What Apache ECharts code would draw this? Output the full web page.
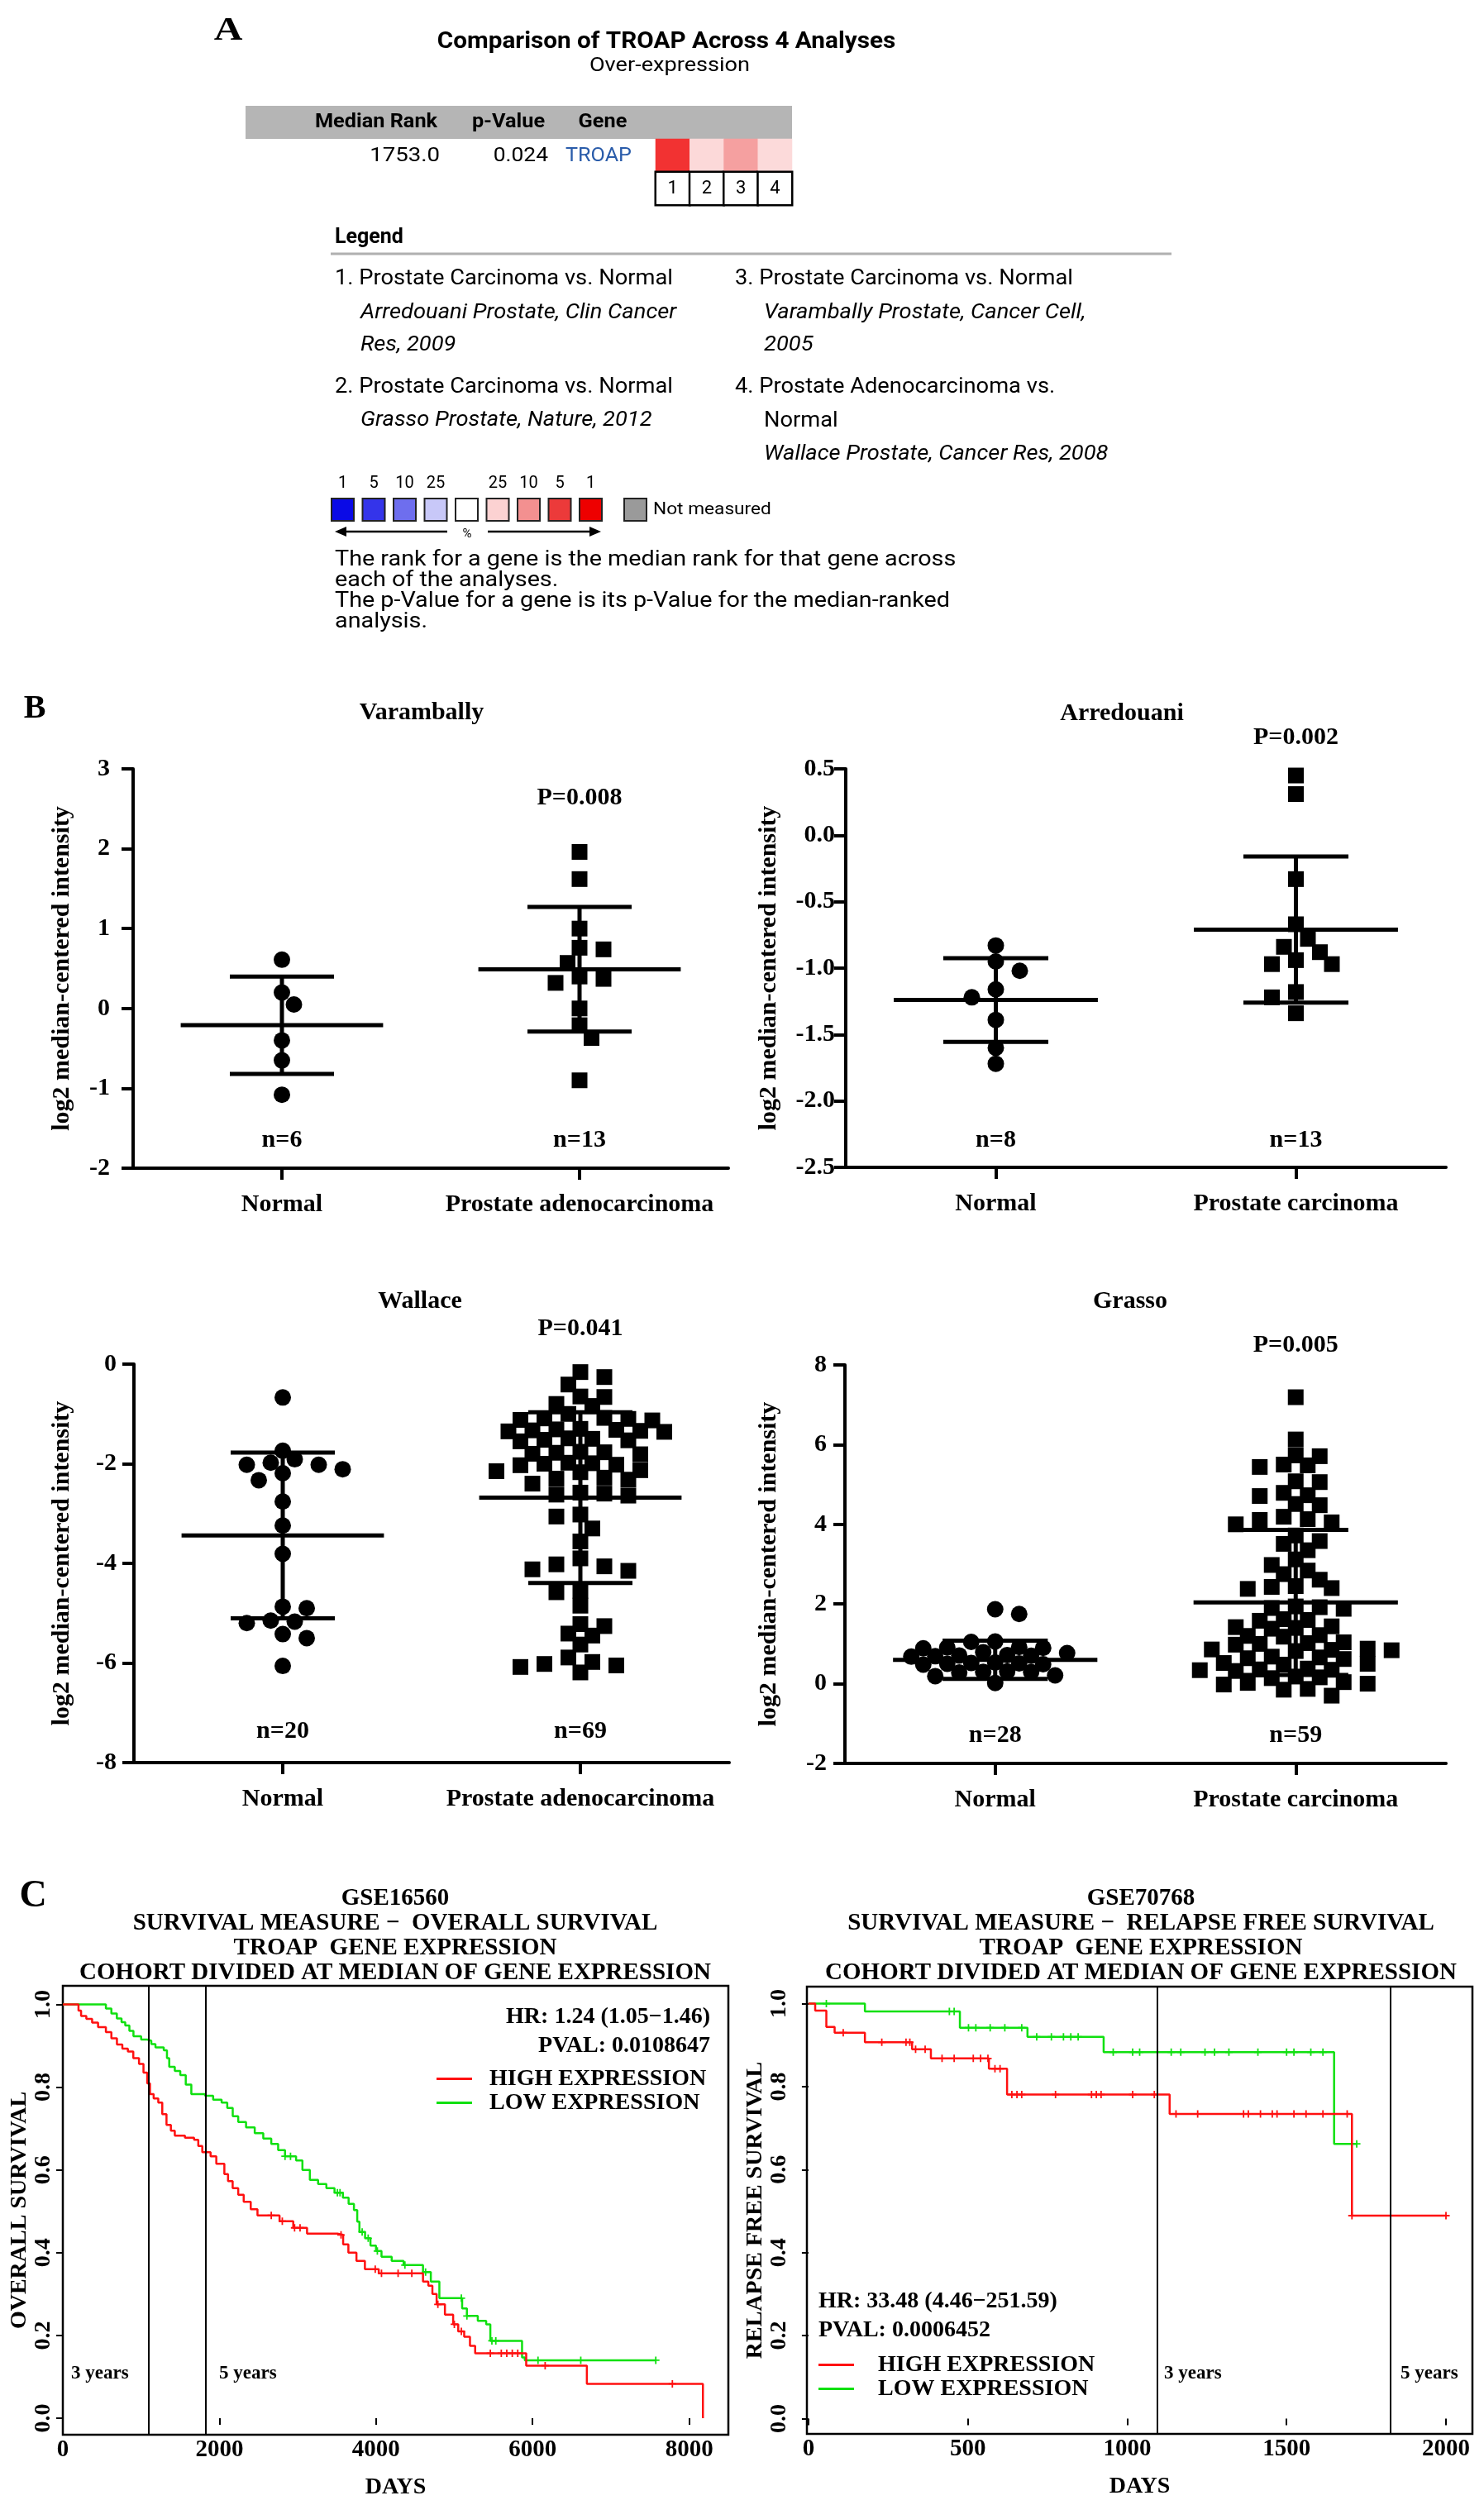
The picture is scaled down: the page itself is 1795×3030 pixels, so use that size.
<!DOCTYPE html>
<html>
<head>
<meta charset="utf-8">
<script src="https://cdn.jsdelivr.net/npm/echarts@6/dist/echarts.min.js"></script>
<style>
  html, body { margin: 0; padding: 0; background: #fff; }
  #main { width: 1795px; height: 3030px; }
</style>
</head>
<body>
<div id="main"></div>
<script>
// ---------- Panel A : Oncomine summary ----------
var analysisIds = ['1', '2', '3', '4'];
var analysisColors = ['#f23232', '#fcd9d9', '#f5a0a0', '#fcdada'];
var summaryHeader = ['Median Rank', 'p-Value', 'Gene'];
var summaryRow = ['1753.0', '0.024', 'TROAP'];
var scaleTicks = ['1', '5', '10', '25', '25', '10', '5', '1'];
var scaleColors = ['#0a0ae6', '#3434ea', '#6e6eee', '#c8c8f8', '#ffffff', '#fcd2d2', '#f39090', '#ec3a3a', '#ee0000'];

// ---------- Panel B : scatter dot plots (log2 median-centered intensity) ----------
var catsAdeno = ['Normal', 'Prostate adenocarcinoma'];
var catsCarc = ['Normal', 'Prostate carcinoma'];

var varNormal = [0.61, 0.20, 0.05, -0.40, -0.65, -1.08];
var varTumor = [1.96, 1.62, 1.00, 0.76, 0.74, 0.57, 0.40, 0.37, 0.32, 0.00, -0.21, -0.37, -0.90];
var varMean = [-0.21, 0.49];
var varSd = [0.61, 0.78];

var arrNormal = [-0.83, -0.95, -1.02, -1.16, -1.22, -1.39, -1.60, -1.72];
var arrTumor = [0.45, 0.31, -0.33, -0.67, -0.78, -0.84, -0.88, -0.94, -0.97, -0.97, -1.18, -1.22, -1.34];
var arrMean = [-1.24, -0.71];
var arrSd = [0.315, 0.55];

var walNormal = [-0.67, -1.74, -1.91, -1.98, -2.02, -2.02, -2.11, -2.19, -2.33, -2.76, -3.24, -3.81,
  -4.87, -4.90, -5.15, -5.17, -5.20, -5.42, -5.50, -6.06];
var walTumor = [-0.16, -0.26, -0.41, -0.65, -0.66, -0.80, -0.84, -1.00,
  -1.08, -1.10, -1.12, -1.09, -1.13,
  -1.30, -1.33, -1.35, -1.31, -1.34, -1.36, -1.32,
  -1.50, -1.52, -1.55, -1.49, -1.53,
  -1.76, -1.78, -1.80, -1.77, -1.81,
  -1.98, -2.00, -2.02, -1.99, -2.03,
  -2.13, -2.15, -2.17, -2.28, -2.30, -2.32, -2.40,
  -2.58, -2.60, -2.62, -2.64,
  -3.02, -3.06, -3.30, -3.56, -3.90, -4.02, -4.06, -4.12, -4.15, -4.55, -4.58, -4.85,
  -5.22, -5.26, -5.41, -5.45, -5.63, -5.89, -5.98, -6.02, -6.05, -6.08, -6.19];
var walMean = [-3.44, -2.68];
var walSd = [1.665, 1.715];

var graNormal = [1.87, 1.75, 1.05, 1.06, 0.92, 0.90, 0.91, 0.89, 0.79, 0.77, 0.70, 0.71, 0.69, 0.72,
  0.68, 0.52, 0.50, 0.49, 0.51, 0.53, 0.48, 0.30, 0.31, 0.29, 0.28, 0.21, 0.19, 0.02];
var graTumor = [7.19, 6.13, 5.71, 5.73, 5.48, 5.44, 5.50, 5.06, 5.08, 4.71, 4.79, 4.73, 4.48, 4.51,
  4.11, 4.13, 4.19, 4.05, 4.00, 3.72, 3.58, 3.51, 3.35, 3.12, 2.98, 2.84, 2.75, 2.61, 2.38, 2.43, 2.40, 2.45,
  1.92, 1.90, 1.94, 1.88, 1.62, 1.60, 1.58, 1.42, 1.40, 1.38, 1.44, 1.22, 1.20, 1.18,
  1.02, 1.00, 0.98, 1.04, 0.86, 0.84, 0.88, 0.82, 0.85, 0.66, 0.64, 0.68, 0.62,
  0.50, 0.48, 0.52, 0.36, 0.34, 0.38, 0.32, 0.35, 0.16, 0.14, 0.18, 0.02, 0.00, -0.02, 0.04,
  -0.15, -0.13, -0.30];
var graMean = [0.60, 2.04];
var graSd = [0.48, 1.82];

// ---------- Panel C : Kaplan-Meier curves ----------
var yearMarks = [1095, 1825];
var kmLeftHigh = [[0,1],[200,0.985],[233,0.972],[300,0.965],[374,0.956],[450,0.945],[550,0.933],[620,0.918],
  [691,0.903],[760,0.893],[831,0.886],[900,0.87],[973,0.856],[1030,0.835],[1078,0.809],[1113,0.783],[1160,0.773],
  [1219,0.763],[1270,0.735],[1324,0.709],[1380,0.695],[1430,0.683],[1560,0.678],[1676,0.673],[1730,0.658],
  [1781,0.643],[1887,0.633],[1960,0.615],[2063,0.59],[2110,0.573],[2169,0.556],[2240,0.54],[2310,0.523],
  [2400,0.505],[2486,0.49],[2768,0.476],[2943,0.46],[3119,0.446],[3507,0.443],[3580,0.42],[3647,0.4],
  [3750,0.38],[3858,0.36],[4035,0.35],[4600,0.33],[4668,0.32],[4720,0.3],[4774,0.275],[4880,0.25],
  [4985,0.227],[5050,0.21],[5126,0.197],[5200,0.175],[5266,0.157],[5918,0.127],[6693,0.083],[8175,0]];
var kmLeftLow = [[0,1],[550,0.99],[620,0.978],[690,0.966],[750,0.957],[797,0.949],[850,0.936],[902,0.923],
  [1000,0.915],[1078,0.912],[1130,0.904],[1183,0.896],[1289,0.889],[1330,0.87],[1359,0.849],[1430,0.839],
  [1500,0.829],[1570,0.806],[1641,0.783],[1817,0.779],[1920,0.77],[2028,0.763],[2100,0.75],[2170,0.73],
  [2240,0.716],[2340,0.703],[2451,0.689],[2560,0.676],[2662,0.663],[2750,0.648],[2838,0.633],[2979,0.623],
  [3060,0.6],[3155,0.576],[3260,0.566],[3366,0.556],[3470,0.545],[3577,0.533],[3650,0.518],[3718,0.503],
  [3760,0.475],[3788,0.45],[3860,0.435],[3929,0.417],[4000,0.404],[4070,0.39],[4200,0.38],[4352,0.37],
  [4600,0.353],[4700,0.33],[4809,0.29],[5100,0.265],[5161,0.247],[5300,0.235],[5407,0.227],[5460,0.187],
  [5865,0.147],[5900,0.14],[7573,0.14]];
var kmLeftHighCens = [[2662,0.49],[2803,0.476],[2960,0.46],[3030,0.46],[3553,0.443],[3990,0.36],[4070,0.35],
  [4282,0.35],[4457,0.35],[4790,0.275],[5000,0.227],[5090,0.21],[5460,0.157],[5600,0.157],[5670,0.157],
  [5740,0.157],[5810,0.157],[6160,0.127],[7785,0.083]];
var kmLeftLowCens = [[2838,0.633],[2908,0.633],[3507,0.545],[3540,0.545],[3823,0.45],[3900,0.435],[4017,0.404],
  [4369,0.37],[4633,0.353],[5090,0.29],[5161,0.247],[5480,0.187],[5530,0.187],[6069,0.14],[6615,0.14],[7573,0.14]];
var kmLeftStats = ['HR: 1.24 (1.05\u22121.46)', 'PVAL: 0.0108647'];

var kmRightHigh = [[0,1],[21,0.983],[56,0.944],[82,0.93],[177,0.907],[325,0.89],[384,0.868],[566,0.843],
  [623,0.781],[1133,0.734],[1705,0.489],[2000,0.489]];
var kmRightLow = [[0,1],[177,0.981],[475,0.942],[687,0.92],[926,0.883],[1649,0.662],[1720,0.662]];
var kmRightHighCens = [[109,0.93],[230,0.907],[306,0.907],[318,0.907],[336,0.89],[366,0.89],[419,0.868],
  [457,0.868],[517,0.868],[540,0.868],[563,0.868],[585,0.843],[601,0.843],[638,0.781],[654,0.781],[669,0.781],
  [775,0.781],[888,0.781],[903,0.781],[918,0.781],[1017,0.781],[1085,0.781],[1153,0.734],[1221,0.734],
  [1365,0.734],[1380,0.734],[1418,0.734],[1455,0.734],[1470,0.734],[1523,0.734],[1561,0.734],[1614,0.734],
  [1690,0.734],[1705,0.489],[2000,0.489]];
var kmRightLowCens = [[56,1],[442,0.981],[457,0.981],[502,0.942],[525,0.942],[570,0.942],[616,0.942],
  [669,0.942],[716,0.92],[762,0.92],[800,0.92],[823,0.92],[846,0.92],[956,0.883],[1017,0.883],[1039,0.883],
  [1138,0.883],[1168,0.883],[1244,0.883],[1274,0.883],[1319,0.883],[1410,0.883],[1500,0.883],[1523,0.883],
  [1576,0.883],[1614,0.883],[1720,0.662]];
var kmRightStats = ['HR: 33.48 (4.46\u2212251.59)', 'PVAL: 0.0006452'];

// ---------- layout ----------
var SERIF = '"Liberation Serif","Times New Roman",serif';
var SANS = 'Roboto,"Liberation Sans",Arial,sans-serif';
var RED = '#ff1010';
var GREEN = '#10e010';
var SLOT_PX = 29;     // dot plot column spacing in px
var MEAN_HW = 0.34;
var CAP_HW = 0.175;

var bPanels = [
  { title: 'Varambally', tx: 510, ty: 862, cats: catsAdeno, normal: varNormal, tumor: varTumor, mean: varMean, sd: varSd,
    min: -2, max: 3, interval: 1, dec: 0, p: 'P=0.008', py: 965, n: ['n=6', 'n=13'], ny: 1379,
    grid: { left: 161, top: 930, width: 720, height: 483 }, margin: 28, nameGap: 71, dist: 19 },
  { title: 'Arredouani', tx: 1357, ty: 863, cats: catsCarc, normal: arrNormal, tumor: arrTumor, mean: arrMean, sd: arrSd,
    min: -2.5, max: 0.5, interval: 0.5, dec: 1, p: 'P=0.002', py: 892, n: ['n=8', 'n=13'], ny: 1379,
    grid: { left: 1023, top: 930, width: 726, height: 482 }, margin: 13, nameGap: 78, dist: 19 },
  { title: 'Wallace', tx: 508, ty: 1574, cats: catsAdeno, normal: walNormal, tumor: walTumor, mean: walMean, sd: walSd,
    min: -8, max: 0, interval: 2, dec: 0, p: 'P=0.041', py: 1607, n: ['n=20', 'n=69'], ny: 2094,
    grid: { left: 162, top: 1650, width: 720, height: 482 }, margin: 21, nameGap: 72, dist: 17.5 },
  { title: 'Grasso', tx: 1367, ty: 1574, cats: catsCarc, normal: graNormal, tumor: graTumor, mean: graMean, sd: graSd,
    min: -2, max: 8, interval: 2, dec: 0, p: 'P=0.005', py: 1627, n: ['n=28', 'n=59'], ny: 2099,
    grid: { left: 1022, top: 1651, width: 727, height: 482 }, margin: 22, nameGap: 77, dist: 17 }
];

// beeswarm on a half-column lattice: each point takes the free spot nearest the centre
function swarm(values, cat, pxPerUnit, catPx, dist) {
  var sorted = values.slice().sort(function (a, b) { return b - a; });
  var placed = [];
  var side = 1;
  sorted.forEach(function (v) {
    for (var k = 0; k < 40; k++) {
      var cands = k === 0 ? [0] : [side * k * 0.5, -side * k * 0.5];
      var ok = false;
      for (var j = 0; j < cands.length; j++) {
        var c = cands[j];
        var hit = placed.some(function (p) {
          var dx = (p.s - c) * SLOT_PX, dy = (p.v - v) * pxPerUnit;
          return dx * dx + dy * dy < dist * dist;
        });
        if (!hit) { placed.push({ s: c, v: v }); if (c !== 0) side = c > 0 ? -1 : 1; ok = true; break; }
      }
      if (ok) break;
    }
  });
  return placed.map(function (p) { return [cat + p.s * SLOT_PX / catPx, p.v]; });
}

function errRender(params, api) {
  var c = api.value(0), m = api.value(1), s = api.value(2);
  function L(x1, y1, x2, y2) {
    var a = api.coord([x1, y1]), b = api.coord([x2, y2]);
    return { type: 'line', shape: { x1: a[0], y1: a[1], x2: b[0], y2: b[1] }, style: { stroke: '#000', lineWidth: 5 } };
  }
  return { type: 'group', children: [
    L(c - MEAN_HW, m, c + MEAN_HW, m),
    L(c, m - s, c, m + s),
    L(c - CAP_HW, m + s, c + CAP_HW, m + s),
    L(c - CAP_HW, m - s, c + CAP_HW, m - s)
  ] };
}

function T(text, x, y, font, align, fill, extra) {
  var el = { type: 'text', x: x, y: y, silent: true,
    style: { text: text, font: font, fill: fill || '#000', textAlign: align || 'center', textVerticalAlign: 'middle' } };
  if (extra) for (var k in extra) el[k] = extra[k];
  return el;
}

var grids = [], xAxes = [], yAxes = [], series = [], graphics = [];

// ----- Panel A -----
grids.push({ left: 793, top: 168, width: 165, height: 80 });
xAxes.push({ gridIndex: 0, type: 'category', data: analysisIds, show: false });
yAxes.push({ gridIndex: 0, type: 'category', data: ['id', 'TROAP'], show: false });
var heatData = [];
analysisIds.forEach(function (id, i) {
  heatData.push({ value: [i, 1, i + 1], itemStyle: { color: analysisColors[i] } });
  heatData.push({ value: [i, 0, i + 1], itemStyle: { color: '#fff', borderColor: '#000', borderWidth: 2.5 },
    label: { show: true } });
});
series.push({ type: 'heatmap', xAxisIndex: 0, yAxisIndex: 0, data: heatData, emphasis: { disabled: true },
  label: { show: false, color: '#000', fontFamily: SANS, fontSize: 22,
    formatter: function (p) { return analysisIds[p.value[0]]; } } });

graphics.push(T('A', 276, 38, 'bold 40px ' + SERIF, 'center', null, { scaleX: 1.2 }));
graphics.push(T('Comparison of TROAP Across 4 Analyses', 806, 51, 'bold 27px ' + SANS, 'center', null, { scaleX: 1.1 }));
graphics.push(T('Over-expression', 810, 80, '24px ' + SANS, 'center', null, { scaleX: 1.13 }));
graphics.push({ type: 'rect', shape: { x: 297, y: 128, width: 661, height: 40 }, style: { fill: '#b5b5b5' }, silent: true, z: -1 });
graphics.push(T(summaryHeader[0], 455, 148, 'bold 23px ' + SANS, 'center', null, { scaleX: 1.1 }));
graphics.push(T(summaryHeader[1], 615, 148, 'bold 23px ' + SANS, 'center', null, { scaleX: 1.1 }));
graphics.push(T(summaryHeader[2], 729, 148, 'bold 23px ' + SANS, 'center', null, { scaleX: 1.1 }));
graphics.push(T(summaryRow[0], 532, 189, '24px ' + SANS, 'right', null, { scaleX: 1.15 }));
graphics.push(T(summaryRow[1], 663, 189, '24px ' + SANS, 'right', null, { scaleX: 1.1 }));
graphics.push(T(summaryRow[2], 684, 189, '24px ' + SANS, 'left', '#2a5caa', { scaleX: 1.05 }));

graphics.push(T('Legend', 405, 288, 'bold 25px ' + SANS, 'left'));
graphics.push({ type: 'line', shape: { x1: 400, y1: 307, x2: 1417, y2: 307 }, style: { stroke: '#b0b0b0', lineWidth: 3 }, silent: true });
var legendLines = [
  ['1. Prostate Carcinoma vs. Normal', 405, 337, false],
  ['Arredouani Prostate, Clin Cancer', 436, 378, true],
  ['Res, 2009', 436, 417, true],
  ['2. Prostate Carcinoma vs. Normal', 405, 468, false],
  ['Grasso Prostate, Nature, 2012', 436, 508, true],
  ['3. Prostate Carcinoma vs. Normal', 889, 337, false],
  ['Varambally Prostate, Cancer Cell,', 924, 378, true],
  ['2005', 924, 417, true],
  ['4. Prostate Adenocarcinoma vs.', 889, 468, false],
  ['Normal', 924, 509, false],
  ['Wallace Prostate, Cancer Res, 2008', 924, 549, true]
];
legendLines.forEach(function (l) {
  graphics.push(T(l[0], l[1], l[2], (l[3] ? 'italic ' : '') + '26px ' + SANS, 'left', null, { scaleX: 1.05 }));
});
scaleColors.forEach(function (c, i) {
  graphics.push({ type: 'rect', shape: { x: 401 + i * 37.5, y: 603, width: 27, height: 27 },
    style: { fill: c, stroke: '#222', lineWidth: 2 }, silent: true });
});
var tickSlots = [0, 1, 2, 3, 5, 6, 7, 8];
scaleTicks.forEach(function (t, i) {
  graphics.push(T(t, 414.5 + tickSlots[i] * 37.5, 585, '20px ' + SANS));
});
graphics.push({ type: 'rect', shape: { x: 755, y: 603, width: 27, height: 27 }, style: { fill: '#9a9a9a', stroke: '#222', lineWidth: 2 }, silent: true });
graphics.push(T('Not measured', 790, 617, '21px ' + SANS, 'left', null, { scaleX: 1.08 }));
graphics.push({ type: 'line', shape: { x1: 414, y1: 643, x2: 541, y2: 643 }, style: { stroke: '#000', lineWidth: 2.5 }, silent: true });
graphics.push({ type: 'polygon', shape: { points: [[405, 643], [419, 637], [419, 649]] }, style: { fill: '#000' }, silent: true });
graphics.push({ type: 'line', shape: { x1: 590, y1: 643, x2: 718, y2: 643 }, style: { stroke: '#000', lineWidth: 2.5 }, silent: true });
graphics.push({ type: 'polygon', shape: { points: [[727, 643], [713, 637], [713, 649]] }, style: { fill: '#000' }, silent: true });
graphics.push(T('%', 565, 646, '15px ' + SANS));
var para = ['The rank for a gene is the median rank for that gene across', 'each of the analyses.',
  'The p-Value for a gene is its p-Value for the median-ranked', 'analysis.'];
para.forEach(function (s, i) { graphics.push(T(s, 405, 678 + i * 25, '25px ' + SANS, 'left', null, { scaleX: 1.15 })); });

// ----- Panel B -----
graphics.push(T('B', 42, 858, 'bold 40px ' + SERIF));
bPanels.forEach(function (p, k) {
  var gi = k + 1;
  grids.push(p.grid);
  var catPx = p.grid.width / 2;
  var pxPerUnit = p.grid.height / (p.max - p.min);
  xAxes.push({ gridIndex: gi, type: 'value', min: 0.5, max: 2.5,
    axisLine: { show: true, onZero: false, lineStyle: { color: '#000', width: 4 } },
    axisTick: { show: true, customValues: [1, 2], length: 14, lineStyle: { color: '#000', width: 4 } },
    axisLabel: { customValues: [1, 2], margin: 29, color: '#000', fontFamily: SERIF, fontWeight: 'bold', fontSize: 30,
      formatter: (function (cats) { return function (v) { return cats[Math.round(v) - 1]; }; })(p.cats) },
    splitLine: { show: false } });
  yAxes.push({ gridIndex: gi, type: 'value', min: p.min, max: p.max, interval: p.interval,
    axisLine: { show: true, onZero: false, lineStyle: { color: '#000', width: 4 } },
    axisTick: { show: true, length: 14, lineStyle: { color: '#000', width: 4 } },
    axisLabel: { margin: p.margin, color: '#000', fontFamily: SERIF, fontWeight: 'bold', fontSize: 30,
      formatter: (function (d) { return function (v) { return v.toFixed(d); }; })(p.dec) },
    splitLine: { show: false },
    name: 'log2 median-centered intensity', nameLocation: 'middle', nameRotate: 90, nameGap: p.nameGap,
    nameTextStyle: { color: '#000', fontFamily: SERIF, fontWeight: 'bold', fontSize: 30 } });
  series.push({ type: 'scatter', xAxisIndex: gi, yAxisIndex: gi, symbol: 'circle', symbolSize: 20,
    itemStyle: { color: '#000', opacity: 1 }, emphasis: { disabled: true },
    data: swarm(p.normal, 1, pxPerUnit, catPx, p.dist) });
  series.push({ type: 'scatter', xAxisIndex: gi, yAxisIndex: gi, symbol: 'rect', symbolSize: 19,
    itemStyle: { color: '#000', opacity: 1 }, emphasis: { disabled: true },
    data: swarm(p.tumor, 2, pxPerUnit, catPx, p.dist) });
  series.push({ type: 'custom', xAxisIndex: gi, yAxisIndex: gi, renderItem: errRender, encode: { x: 0, y: 1 },
    data: [[1, p.mean[0], p.sd[0]], [2, p.mean[1], p.sd[1]]], z: 5 });
  graphics.push(T(p.title, p.tx, p.ty, 'bold 30px ' + SERIF));
  var c1 = p.grid.left + 0.5 * catPx, c2 = p.grid.left + 1.5 * catPx;
  graphics.push(T(p.p, c2, p.py, 'bold 30px ' + SERIF));
  graphics.push(T(p.n[0], c1, p.ny, 'bold 30px ' + SERIF));
  graphics.push(T(p.n[1], c2, p.ny, 'bold 30px ' + SERIF));
});

// ----- Panel C -----
graphics.push(T('C', 40, 2294, 'bold 46px ' + SERIF));
var kmPanels = [
  { gse: 'GSE16560', measure: 'SURVIVAL MEASURE \u2212  OVERALL SURVIVAL', yName: 'OVERALL SURVIVAL',
    high: kmLeftHigh, low: kmLeftLow, highC: kmLeftHighCens, lowC: kmLeftLowCens, stats: kmLeftStats,
    grid: { left: 76, top: 2402, width: 805, height: 543 }, xmin: 0, xmax: 8500, xticks: [0, 2000, 4000, 6000, 8000],
    ymin: -0.04, ymax: 1.045, cx: 478, yLabMargin: 9, yNameGap: 37,
    statsPos: [859, 2440, 'right'], legend: { left: 528, top: 2500, pad: 16 }, years: [[86, 2871], [265, 2871]] },
  { gse: 'GSE70768', measure: 'SURVIVAL MEASURE \u2212  RELAPSE FREE SURVIVAL', yName: 'RELAPSE FREE SURVIVAL',
    high: kmRightHigh, low: kmRightLow, highC: kmRightHighCens, lowC: kmRightLowCens, stats: kmRightStats,
    grid: { left: 976, top: 2403, width: 805, height: 541 }, xmin: -5, xmax: 2083, xticks: [0, 500, 1000, 1500, 2000],
    ymin: -0.037, ymax: 1.041, cx: 1380, yLabMargin: 19, yNameGap: 48,
    statsPos: [990, 2784, 'left'], legend: { left: 990, top: 2846, pad: 24 }, years: [[1408, 2871], [1694, 2871]] }
];
var plusPath = 'path://M4,0 H6 V4 H10 V6 H6 V10 H4 V6 H0 V4 H4 Z';
var legends = [];
kmPanels.forEach(function (p, k) {
  var gi = 5 + k;
  grids.push({ left: p.grid.left, top: p.grid.top, width: p.grid.width, height: p.grid.height,
    show: true, borderColor: '#000', borderWidth: 2.5, backgroundColor: 'transparent' });
  xAxes.push({ gridIndex: gi, type: 'value', min: p.xmin, max: p.xmax,
    axisLine: { show: false },
    axisTick: { show: true, customValues: p.xticks, length: 8, lineStyle: { color: '#000', width: 2 } },
    axisLabel: { customValues: p.xticks, margin: 4, color: '#000', fontFamily: SERIF, fontWeight: 'bold', fontSize: 29,
      formatter: function (v) { return String(v); } },
    splitLine: { show: false },
    name: 'DAYS', nameLocation: 'middle', nameGap: 50,
    nameTextStyle: { color: '#000', fontFamily: SERIF, fontWeight: 'bold', fontSize: 28 } });
  var yt = [0, 0.2, 0.4, 0.6, 0.8, 1.0];
  yAxes.push({ gridIndex: gi, type: 'value', min: p.ymin, max: p.ymax,
    axisLine: { show: false },
    axisTick: { show: true, customValues: yt, length: 8, lineStyle: { color: '#000', width: 2 } },
    axisLabel: { customValues: yt, rotate: 90, margin: p.yLabMargin, color: '#000', fontFamily: SERIF, fontWeight: 'bold', fontSize: 28,
      formatter: function (v) { return v.toFixed(1); } },
    splitLine: { show: false },
    name: p.yName, nameLocation: 'middle', nameRotate: 90, nameGap: p.yNameGap,
    nameTextStyle: { color: '#000', fontFamily: SERIF, fontWeight: 'bold', fontSize: 28 } });
  series.push({ type: 'line', name: 'HIGH EXPRESSION', xAxisIndex: gi, yAxisIndex: gi, step: 'end', data: p.high,
    symbol: 'none', lineStyle: { color: RED, width: 2.5 }, itemStyle: { color: RED }, z: 3,
    markLine: { silent: true, symbol: 'none', label: { show: false }, lineStyle: { color: '#000', width: 2, type: 'solid' },
      data: yearMarks.map(function (d) { return { xAxis: d }; }) } });
  series.push({ type: 'line', name: 'LOW EXPRESSION', xAxisIndex: gi, yAxisIndex: gi, step: 'end', data: p.low,
    symbol: 'none', lineStyle: { color: GREEN, width: 2.5 }, itemStyle: { color: GREEN }, z: 2 });
  series.push({ type: 'scatter', xAxisIndex: gi, yAxisIndex: gi, symbol: plusPath, symbolSize: 9,
    itemStyle: { color: RED, opacity: 1 }, data: p.highC, z: 3 });
  series.push({ type: 'scatter', xAxisIndex: gi, yAxisIndex: gi, symbol: plusPath, symbolSize: 9,
    itemStyle: { color: GREEN, opacity: 1 }, data: p.lowC, z: 2 });
  legends.push({ data: ['HIGH EXPRESSION', 'LOW EXPRESSION'], orient: 'vertical', left: p.legend.left, top: p.legend.top,
    itemWidth: 43, itemHeight: 3, itemGap: 0, icon: 'rect', selectedMode: false, padding: 0,
    textStyle: { color: '#000', fontFamily: SERIF, fontWeight: 'bold', fontSize: 28, lineHeight: 29, padding: [0, 0, 0, p.legend.pad] } });
  var titleLines = [p.gse, p.measure, 'TROAP  GENE EXPRESSION', 'COHORT DIVIDED AT MEDIAN OF GENE EXPRESSION'];
  titleLines.forEach(function (s, i) { graphics.push(T(s, p.cx, 2297 + i * 29.7, 'bold 29px ' + SERIF)); });
  graphics.push(T(p.stats[0], p.statsPos[0], p.statsPos[1], 'bold 28px ' + SERIF, p.statsPos[2]));
  graphics.push(T(p.stats[1], p.statsPos[0], p.statsPos[1] + 35, 'bold 28px ' + SERIF, p.statsPos[2]));
  graphics.push(T('3 years', p.years[0][0], p.years[0][1], 'bold 23px ' + SERIF, 'left'));
  graphics.push(T('5 years', p.years[1][0], p.years[1][1], 'bold 23px ' + SERIF, 'left'));
});

var chart = echarts.init(document.getElementById('main'), null, { renderer: 'canvas' });
chart.setOption({
  backgroundColor: '#fff',
  animation: false,
  grid: grids,
  xAxis: xAxes,
  yAxis: yAxes,
  legend: legends,
  series: series,
  graphic: { elements: graphics }
});
</script>
</body>
</html>
